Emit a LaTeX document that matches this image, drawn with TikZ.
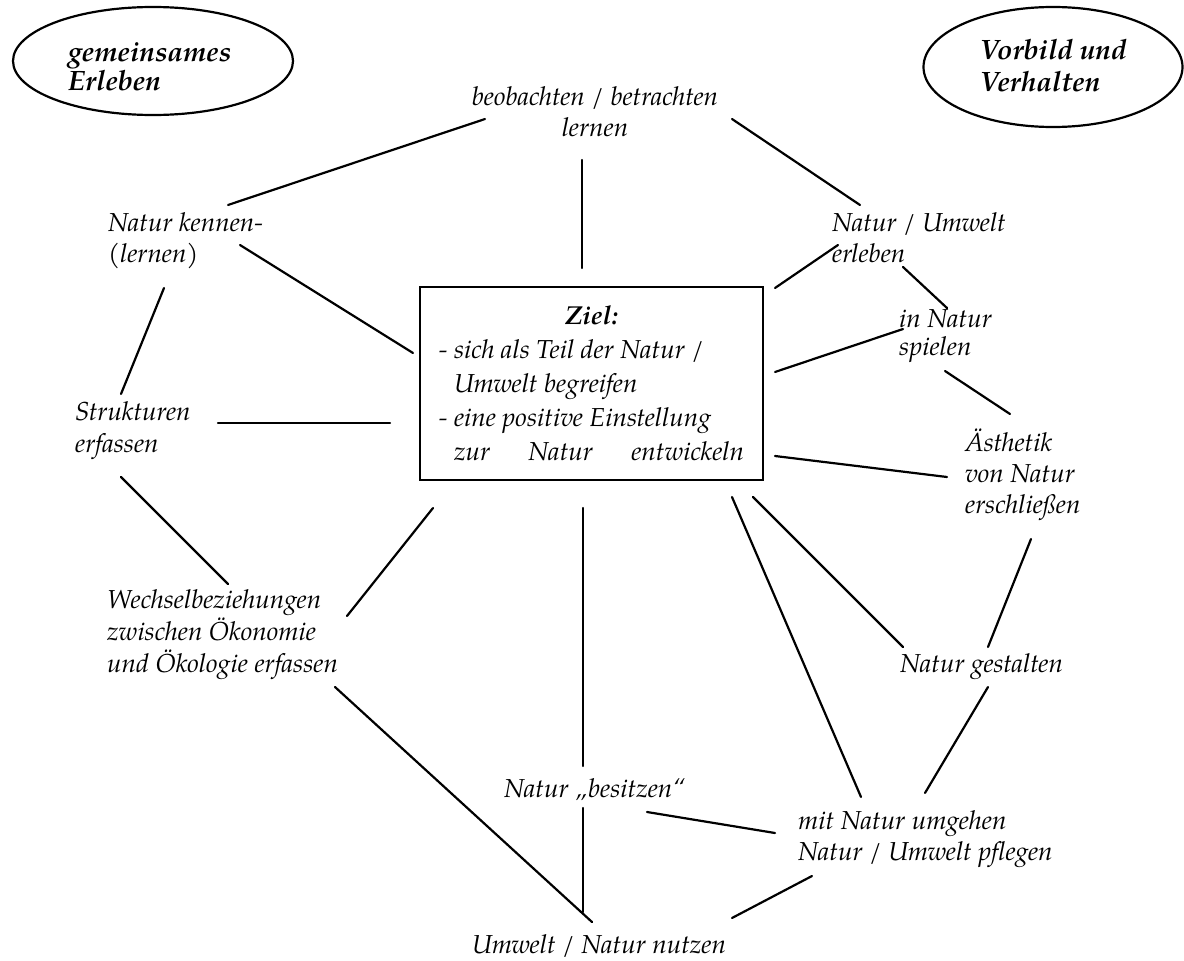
\documentclass[tikz,border=0pt]{standalone}
\usepackage{fontspec}
\setmainfont{texgyrepagella}[Extension=.otf, UprightFont=*-regular, BoldFont=*-bold, ItalicFont=*-italic, BoldItalicFont=*-bolditalic]
\usetikzlibrary{shapes.geometric}
\begin{document}
\begin{tikzpicture}[x=1pt,y=-1pt,
  lbl/.style={anchor=base west, align=left, inner sep=0pt, font=\fontsize{26}{31}\selectfont\itshape},
  hdr/.style={anchor=base west, align=left, inner sep=0pt, font=\fontsize{28}{30}\selectfont\bfseries\itshape},
  oval/.style={ellipse, draw, line width=2.2pt, inner sep=0pt},
  conn/.style={line width=2.2pt, line cap=round}]
\fill[white] (0,0) rectangle (1184,961);
\useasboundingbox (0,0) rectangle (1184,961);

% header ellipses
\node[oval, minimum width=280pt, minimum height=108pt] (e1) at (153,61) {};
\node[hdr, font=\fontsize{28}{27}\selectfont\bfseries\itshape] (h1) at (68,90) {gemeinsames\\Erleben};
\node[oval, minimum width=259pt, minimum height=120pt] (e2) at (1053,67) {};
\node[hdr, font=\fontsize{28}{32}\selectfont\bfseries\itshape] (h2) at (980,91) {Vorbild und\\Verhalten};

% central box
\node[draw, line width=2.5pt, minimum width=343pt, minimum height=193pt, inner sep=0pt,
      align=left, font=\fontsize{26}{34}\selectfont\itshape] (ziel) at (591.5,383.5)
  {\makebox[305pt]{\bfseries Ziel:}\\- sich als Teil der Natur /\\\phantom{- }Umwelt begreifen\\- eine positive Einstellung\\\phantom{- }\makebox[290pt][s]{zur Natur entwickeln}};

% text nodes (anchor = baseline of the last line)
\node[lbl, anchor=base, align=center] (beob) at (595,136) {beobachten / betrachten\\lernen};
\node[lbl] (kenn) at (108,262) {Natur kennen-\\(lernen)};
\node[lbl] (erleb) at (832,262) {Natur / Umwelt\\erleben};
\node[lbl, font=\fontsize{26}{32}\selectfont\itshape] (strukt) at (75,452) {Strukturen\\erfassen};
\node[lbl, font=\fontsize{26}{28}\selectfont\itshape] (spiel) at (899,355) {in Natur\\spielen};
\node[lbl] (aesth) at (965,513) {Ästhetik\\von Natur\\erschließen};
\node[lbl, font=\fontsize{26}{32}\selectfont\itshape] (wechsel) at (107,672) {Wechselbeziehungen\\zwischen Ökonomie\\und Ökologie erfassen};
\node[lbl] (gestalt) at (900,672) {Natur gestalten};
\node[lbl] (besitz) at (504,797) {Natur „besitzen“};
\node[lbl] (umgeh) at (798,860) {mit Natur umgehen\\Natur / Umwelt pflegen};
\node[lbl] (nutzen) at (472,953) {Umwelt / Natur nutzen};

% connector end points
\coordinate (a1) at (228,205); \coordinate (b1) at (485,119);
\coordinate (a2) at (582,160); \coordinate (b2) at (582,268);
\coordinate (a3) at (732,119); \coordinate (b3) at (860,205);
\coordinate (a4) at (240,245); \coordinate (b4) at (413,353);
\coordinate (a5) at (164,288); \coordinate (b5) at (121,394);
\coordinate (a6) at (218,423); \coordinate (b6) at (390,423);
\coordinate (a7) at (121,477); \coordinate (b7) at (228,584);
\coordinate (a8) at (347,616); \coordinate (b8) at (433,508);
\coordinate (a9) at (583,508); \coordinate (b9) at (583,766);
\coordinate (a10) at (335,687); \coordinate (b10) at (592,922);
\coordinate (a11) at (583,808); \coordinate (b11) at (583,912);
\coordinate (a12) at (647,812); \coordinate (b12) at (775,833);
\coordinate (a13) at (732,918); \coordinate (b13) at (812,876);
\coordinate (a14) at (775,288); \coordinate (b14) at (838,245);
\coordinate (a15) at (903,267); \coordinate (b15) at (947,308);
\coordinate (a16) at (775,372); \coordinate (b16) at (903,329);
\coordinate (a17) at (945,371); \coordinate (b17) at (1010,414);
\coordinate (a18) at (775,456); \coordinate (b18) at (947,477);
\coordinate (a19) at (1031,539); \coordinate (b19) at (988,647);
\coordinate (a20) at (753,497); \coordinate (b20) at (903,647);
\coordinate (a21) at (732,497); \coordinate (b21) at (861,797);
\coordinate (a22) at (988,687); \coordinate (b22) at (925,793);

\foreach \i in {1,...,22} { \draw[conn] (a\i) -- (b\i); }
\end{tikzpicture}
\end{document}
